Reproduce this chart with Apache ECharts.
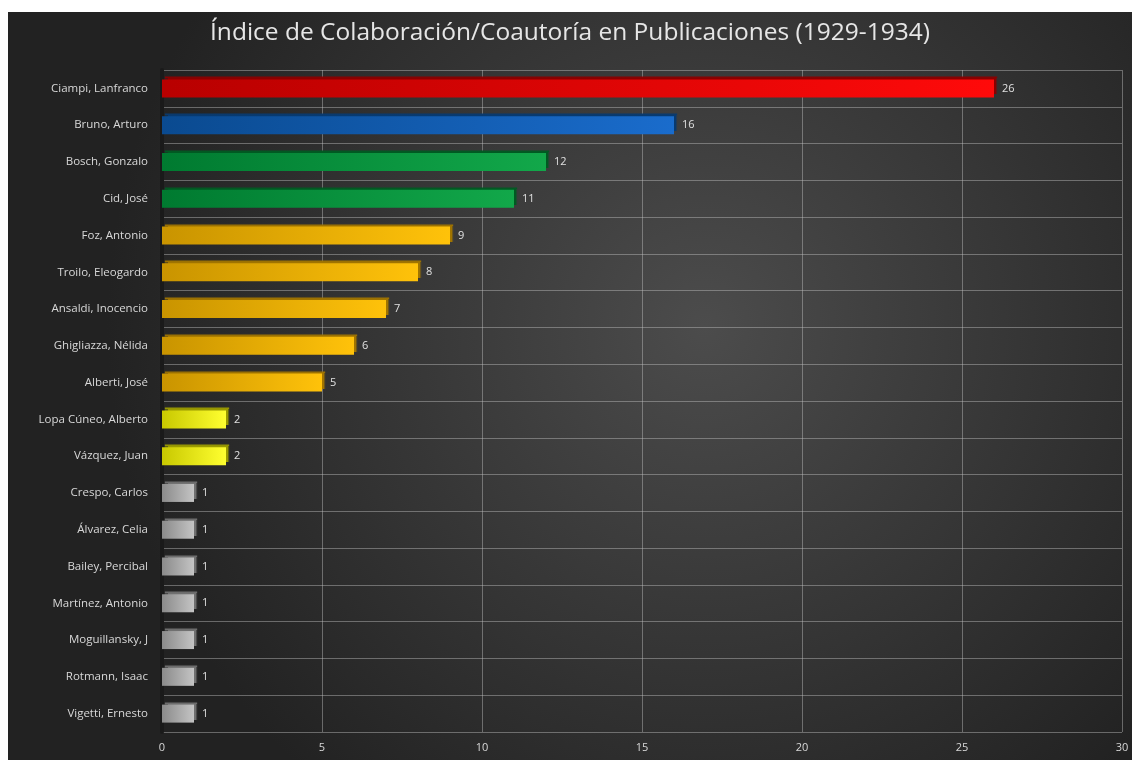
<!DOCTYPE html>
<html>
<head>
<meta charset="utf-8">
<script src="https://cdn.jsdelivr.net/npm/echarts@6/dist/echarts.min.js"></script>
<style>
html,body{margin:0;padding:0;background:#ffffff;}
#chart{position:absolute;left:8px;top:12px;width:1124px;height:748px;}
</style>
</head>
<body>
<div id="chart"></div>
<script>
const categories = ["Ciampi, Lanfranco","Bruno, Arturo","Bosch, Gonzalo","Cid, José","Foz, Antonio","Troilo, Eleogardo","Ansaldi, Inocencio","Ghigliazza, Nélida","Alberti, José","Lopa Cúneo, Alberto","Vázquez, Juan","Crespo, Carlos","Álvarez, Celia","Bailey, Percibal","Martínez, Antonio","Moguillansky, J","Rotmann, Isaac","Vigetti, Ernesto"];
const values = [26,16,12,11,9,8,7,6,5,2,2,1,1,1,1,1,1,1];
const groups = ["red","blue","green","green","orange","orange","orange","orange","orange","yellow","yellow","gray","gray","gray","gray","gray","gray","gray"];
const xTicks = [0,5,10,15,20,25,30];

const palette = {
  red:    ["#b80000","#ff0a0a","#8a0000"],
  blue:   ["#0a4a90","#1a6ccc","#083a70"],
  green:  ["#007a30","#12a84a","#005a22"],
  orange: ["#c99400","#ffc20a","#a07400"],
  yellow: ["#c8c800","#ffff30","#9a9a00"],
  gray:   ["#8a8a8a","#c4c4c4","#707070"]
};

const chart = echarts.init(document.getElementById('chart'));
const data = values.map((v,i)=>{
  const c = palette[groups[i]];
  return {
    value: v,
    itemStyle: {
      color: new echarts.graphic.LinearGradient(0,0,1,0,[{offset:0,color:c[0]},{offset:1,color:c[1]}]),
      shadowColor: c[2],
      shadowOffsetX: 3,
      shadowOffsetY: -3,
      shadowBlur: 1
    }
  };
});

chart.setOption({
  backgroundColor: new echarts.graphic.RadialGradient(0.62,0.42,0.8,[
    {offset:0,color:'#4c4c4c'},{offset:1,color:'#222222'}
  ]),
  title: {
    text: 'Índice de Colaboración/Coautoría en Publicaciones (1929-1934)',
    left: 'center', top: 4,
    textStyle: {color:'#e6e6e6', fontFamily:'Open Sans', fontSize:24.5, fontWeight:'normal'}
  },
  grid: {left:154, top:58, width:960, height:662, containLabel:false},
  xAxis: {
    type:'value', min:0, max:30, interval:5,
    axisLine:{show:false}, axisTick:{show:false},
    axisLabel:{color:'#d8d8d8', fontFamily:'Open Sans', fontSize:11, margin:10,
      formatter:(v)=> xTicks.includes(v) ? String(v) : ''},
    splitLine:{show:true, lineStyle:{color:'rgba(190,190,190,0.45)', width:1}}
  },
  yAxis: {
    type:'category', data:categories, inverse:true,
    axisLine:{show:true, lineStyle:{color:'#1a1a1a', width:4}},
    axisTick:{show:false},
    axisLabel:{color:'#d8d8d8', fontFamily:'Open Sans', fontSize:11.5, margin:14},
    splitLine:{show:true, lineStyle:{color:'rgba(190,190,190,0.45)', width:1}}
  },
  series: [{
    type:'bar', data:data, barWidth:18,
    label:{show:true, position:'right', distance:8, color:'#e0e0e0', fontFamily:'Open Sans', fontSize:11}
  }]
});
</script>
</body>
</html>
